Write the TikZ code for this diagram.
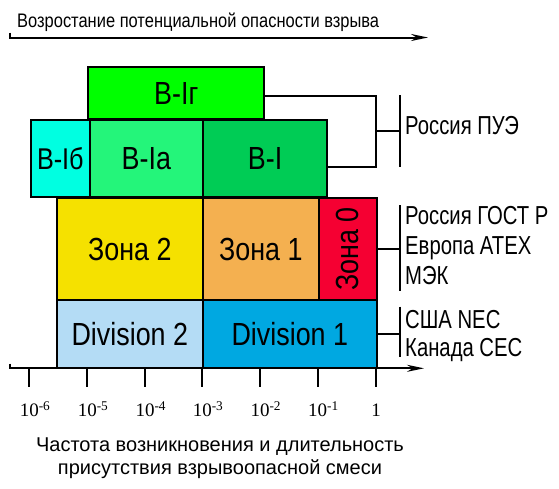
\documentclass[tikz,border=0pt]{standalone}
\usepackage{fontspec}
\setmainfont{Liberation Sans}
\newfontfamily\boxfont[FakeStretch=0.84]{Liberation Sans}
\newfontfamily\sidefont[FakeStretch=0.78]{Liberation Sans}
\newfontfamily\tickfont{Liberation Serif}
\usetikzlibrary{positioning, arrows.meta}
\definecolor{vig}{RGB}{0,255,0}
\definecolor{vib}{RGB}{0,255,225}
\definecolor{via}{RGB}{36,245,122}
\definecolor{vi}{RGB}{0,204,85}
\definecolor{zonetwo}{RGB}{245,225,0}
\definecolor{zoneone}{RGB}{244,176,80}
\definecolor{zonezero}{RGB}{245,0,50}
\definecolor{divtwo}{RGB}{180,220,245}
\definecolor{divone}{RGB}{0,168,225}
\tikzset{
    zonebox/.style={draw, line width=1.8pt, inner sep=0pt, outer sep=0pt, anchor=north west,
        font=\boxfont\fontsize{32}{32}\selectfont},
    bracket/.style={line width=1.8pt},
    axis/.style={line width=2pt, -{Stealth[length=17pt, width=7pt]}},
    tickline/.style={line width=2pt},
    ticklbl/.style={anchor=base, inner sep=0pt, font=\tickfont\fontsize{19}{19}\selectfont},
    std/.style={anchor=north west, inner sep=0pt, align=left, font=\sidefont\fontsize{26}{30}\selectfont},
}

\begin{document}
\begin{tikzpicture}[x=1pt, y=-1pt]
    \useasboundingbox (0,0) rectangle (559,488);

    \node[anchor=base west, inner sep=0pt, font=\boxfont\fontsize{19.6}{19.6}\selectfont] (title) at (17,27.7)
        {Возростание потенциальной опасности взрыва};
    \coordinate (ts) at (10,32.5);
    \coordinate (t0) at (10,37.5);
    \coordinate (t1) at (428,37.5);
    \draw[axis] (ts) -- (t0) -- (t1);

    \node[zonebox, fill=vig, minimum width=176pt, minimum height=52.6pt] (bg) at (88.3,66.7) {В-Iг};

    \node[zonebox, fill=vib, minimum width=58.7pt, minimum height=77.3pt,
        font=\boxfont\fontsize{30}{30}\selectfont] (b6) at (31,120) {В-Iб};
    \node[zonebox, fill=via, minimum width=113.3pt, minimum height=77.3pt, right=0pt of b6] (ba) {В-Iа};
    \node[zonebox, fill=vi, minimum width=124.3pt, minimum height=77.3pt, right=0pt of ba] (bi) {В-I};

    \node[zonebox, fill=zonetwo, minimum width=146.3pt, minimum height=101.4pt] (z2) at (56.7,198.3) {Зона 2};
    \node[zonebox, fill=zoneone, minimum width=115.7pt, minimum height=101.4pt, right=0pt of z2] (z1) {Зона 1};
    \node[zonebox, fill=zonezero, minimum width=58pt, minimum height=101.4pt, right=0pt of z1,
        label={[rotate=90, inner sep=0pt, font=\boxfont\fontsize{32}{32}\selectfont]center:Зона 0}] (z0) {};

    \node[zonebox, fill=divtwo, minimum width=146.3pt, minimum height=68.6pt, below=0pt of z2] (d2) {Division 2};
    \node[zonebox, fill=divone, minimum width=173.7pt, minimum height=68.6pt, right=0pt of d2] (d1) {Division 1};

    \coordinate (pt) at (376,95.7);
    \coordinate (pb) at (376,166.7);
    \coordinate (pue) at (376,131);
    \coordinate (pueA) at (400,95);
    \coordinate (pueB) at (400,167.3);
    \draw[bracket] (bg.east |- pt) -- (pt) -- (pb) -- (bi.east |- pb);
    \draw[bracket] (pueA) -- (pueB);
    \draw[bracket] (pue) -- (pue -| pueA);
    \node[std] (lpue) at (405,116) {Россия ПУЭ};

    \coordinate (gostA) at (400,205);
    \coordinate (gostB) at (400,290.7);
    \draw[bracket] (gostA) -- (gostB);
    \draw[bracket] (z0.east) -- (z0.east -| gostA);
    \node[std] (lgost) at (405,206) {Россия ГОСТ Р\\Европа ATEX\\МЭК};

    \coordinate (necA) at (400,306.7);
    \coordinate (necB) at (400,356.7);
    \draw[bracket] (necA) -- (necB);
    \draw[bracket] (d1.east) -- (d1.east -| necA);
    \node[std, font=\sidefont\fontsize{26}{28}\selectfont] (lnec) at (405,310) {США NEC\\Канада CEC};

    \coordinate (as) at (10,363.5);
    \coordinate (a0) at (10,368.3);
    \coordinate (a1) at (424,368.3);
    \draw[axis] (as) -- (a0) -- (a1);
    \foreach \x in {29.3,87.3,145,202.3,260,317.7,376}
        \draw[tickline] (\x,368.3) -- (\x,386.7);
    \foreach \x/\e [count=\i] in {29.3/-6,87.3/-5,145/-4,202.3/-3,260/-2,317.7/-1}
        \node[ticklbl] (e\i) at (\x,416.7) {10\rlap{\textsuperscript{\e}}};
    \node[ticklbl] (e7) at (376,416.7) {1};

    \node[anchor=north, inner sep=0pt, align=center, font=\fontsize{20}{23.5}\selectfont] (cap) at (220,437.3)
        {Частота возникновения и длительность\\присутствия взрывоопасной смеси};
  \end{tikzpicture}
\end{document}
